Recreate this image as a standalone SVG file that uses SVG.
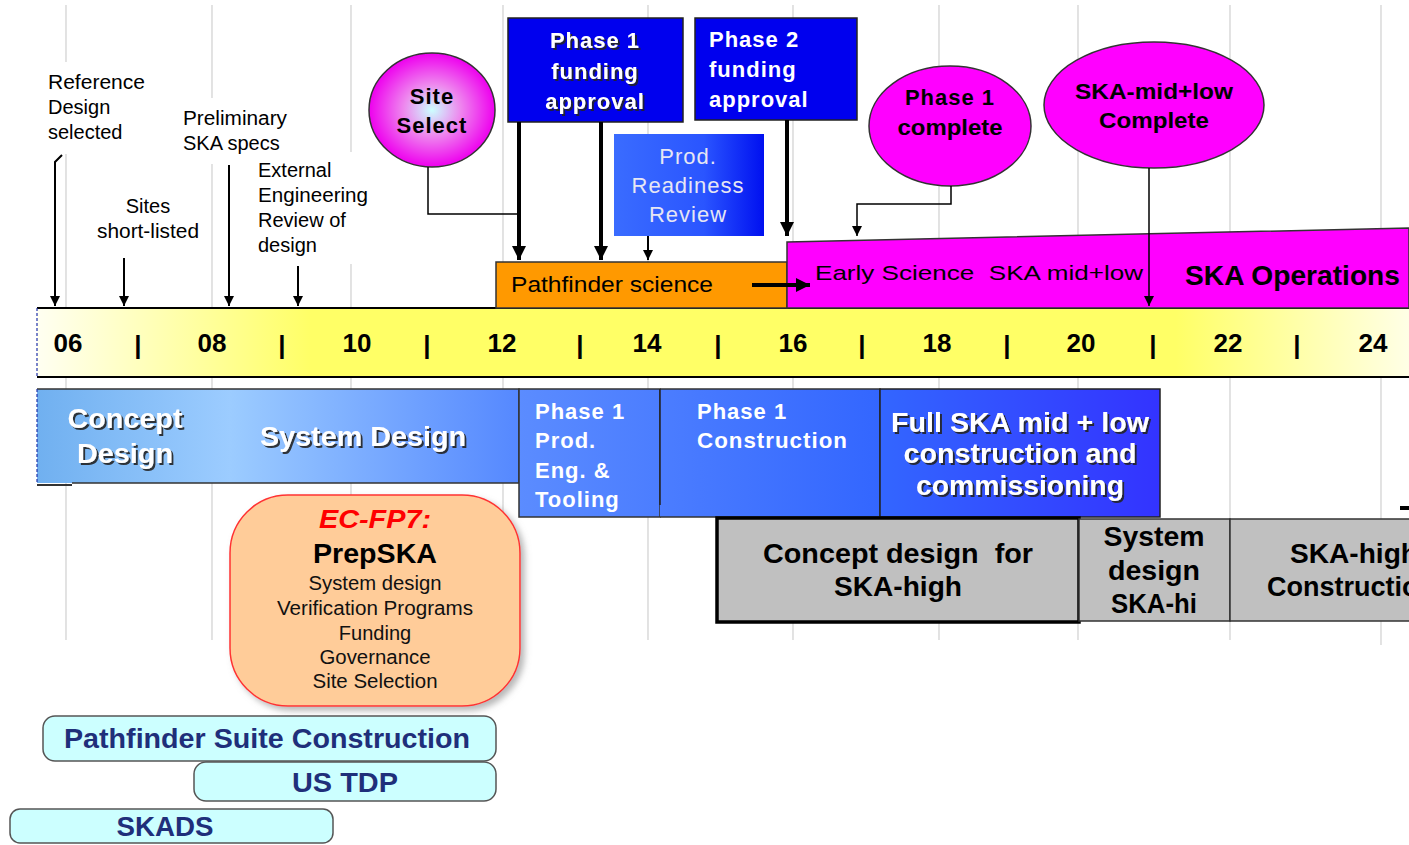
<svg xmlns="http://www.w3.org/2000/svg" width="1409" height="845" viewBox="0 0 1409 845">
<defs>
<style>
text{font-family:"Liberation Sans",Arial,sans-serif}
.lbl{font-size:20px;fill:#000}
.yr{font-size:26px;font-weight:bold;fill:#000}
.wb{font-weight:bold;fill:#fff}
.bk{font-weight:bold;fill:#000}
.grid{stroke:#d0d0d0;stroke-width:1.2}
.thin{stroke:#000;stroke-width:2;fill:none}
.thick{stroke:#000;stroke-width:4;fill:none}
.cyan{fill:#ccffff;stroke:#555;stroke-width:1.5}
.navy{font-weight:bold;fill:#1f2f7a}
</style>
<marker id="ah" markerUnits="userSpaceOnUse" markerWidth="12" markerHeight="12" refX="10" refY="5" orient="auto"><path d="M0,0 L10,5 L0,10 Z" fill="#000"/></marker>
<marker id="ahb" markerUnits="userSpaceOnUse" markerWidth="16" markerHeight="16" refX="14" refY="7" orient="auto"><path d="M0,0 L14,7 L0,14 Z" fill="#000"/></marker>
<linearGradient id="gy" gradientUnits="userSpaceOnUse" x1="37" y1="0" x2="1409" y2="0"><stop offset="0" stop-color="#fffff2"/><stop offset="0.2" stop-color="#ffff66"/><stop offset="0.83" stop-color="#ffff66"/><stop offset="1" stop-color="#ffffe6"/></linearGradient>
<linearGradient id="gc" gradientUnits="userSpaceOnUse" x1="37" y1="0" x2="519" y2="0"><stop offset="0" stop-color="#70b0f0"/><stop offset="0.4" stop-color="#9cccff"/><stop offset="1" stop-color="#5588ff"/></linearGradient>
<linearGradient id="gp" gradientUnits="userSpaceOnUse" x1="519" y1="0" x2="880" y2="0"><stop offset="0" stop-color="#5b8cff"/><stop offset="1" stop-color="#3366ff"/></linearGradient>
<linearGradient id="gf" gradientUnits="userSpaceOnUse" x1="880" y1="0" x2="1160" y2="0"><stop offset="0" stop-color="#3366ff"/><stop offset="1" stop-color="#3333ff"/></linearGradient>
<linearGradient id="gr" gradientUnits="userSpaceOnUse" x1="614" y1="0" x2="764" y2="0"><stop offset="0" stop-color="#3a6cff"/><stop offset="0.6" stop-color="#2a55ff"/><stop offset="1" stop-color="#0010f0"/></linearGradient>
<radialGradient id="gm" cx="0.5" cy="0.5" r="0.5"><stop offset="0" stop-color="#ccffff"/><stop offset="0.45" stop-color="#ee88ee"/><stop offset="1" stop-color="#ee00ee"/></radialGradient>
<filter id="sh" x="-10%" y="-10%" width="130%" height="140%"><feDropShadow dx="2" dy="2" stdDeviation="0.3" flood-color="#222" flood-opacity="0.9"/></filter>
<filter id="bs" x="-10%" y="-10%" width="130%" height="130%"><feDropShadow dx="4" dy="4" stdDeviation="3" flood-color="#888" flood-opacity="0.6"/></filter>
</defs>
<rect width="1409" height="845" fill="#fff"/>
<g id="gridlines">
<path class="grid" d="M66,5V640M212,5V640M351,5V640M503,5V640M648,5V640M793,5V640M939,5V640M1078,5V640M1230,5V640M1381,5V645"/>
</g>
<g id="timeline">
<rect x="37" y="308" width="1380" height="69" fill="url(#gy)"/>
<path d="M37,308H1409M37,377H1409" stroke="#000" stroke-width="2"/>
<path d="M37,308V377" stroke="#2233aa" stroke-width="1.2" stroke-dasharray="3,2"/>
<g class="yr">
<text x="68" y="352" text-anchor="middle">06</text>
<text x="138" y="354" text-anchor="middle">|</text>
<text x="212" y="352" text-anchor="middle">08</text>
<text x="282" y="354" text-anchor="middle">|</text>
<text x="357" y="352" text-anchor="middle">10</text>
<text x="427" y="354" text-anchor="middle">|</text>
<text x="502" y="352" text-anchor="middle">12</text>
<text x="580" y="354" text-anchor="middle">|</text>
<text x="647" y="352" text-anchor="middle">14</text>
<text x="718" y="354" text-anchor="middle">|</text>
<text x="793" y="352" text-anchor="middle">16</text>
<text x="862" y="354" text-anchor="middle">|</text>
<text x="937" y="352" text-anchor="middle">18</text>
<text x="1007" y="354" text-anchor="middle">|</text>
<text x="1081" y="352" text-anchor="middle">20</text>
<text x="1153" y="354" text-anchor="middle">|</text>
<text x="1228" y="352" text-anchor="middle">22</text>
<text x="1297" y="354" text-anchor="middle">|</text>
<text x="1373" y="352" text-anchor="middle">24</text>
</g>
</g>
<g id="ref-design">
<rect x="42" y="62" width="112" height="92" fill="#fff"/>
<text class="lbl" x="48" y="89" textLength="97" lengthAdjust="spacingAndGlyphs">Reference</text>
<text class="lbl" x="48" y="114">Design</text>
<text class="lbl" x="48" y="139">selected</text>
</g>
<g id="sites-shortlisted">
<text class="lbl" x="148" y="213" text-anchor="middle">Sites</text>
<text class="lbl" x="148" y="238" text-anchor="middle" textLength="102" lengthAdjust="spacingAndGlyphs">short-listed</text>
</g>
<g id="prelim-specs">
<rect x="178" y="98" width="114" height="66" fill="#fff"/>
<text class="lbl" x="183" y="125" textLength="104" lengthAdjust="spacingAndGlyphs">Preliminary</text>
<text class="lbl" x="183" y="150">SKA specs</text>
</g>
<g id="ext-review">
<rect x="252" y="152" width="122" height="112" fill="#fff"/>
<text class="lbl" x="258" y="177">External</text>
<text class="lbl" x="258" y="202" textLength="110" lengthAdjust="spacingAndGlyphs">Engineering</text>
<text class="lbl" x="258" y="227">Review of</text>
<text class="lbl" x="258" y="252">design</text>
</g>
<g id="site-select">
<ellipse cx="432" cy="110" rx="63" ry="57" fill="url(#gm)" stroke="#333" stroke-width="1.5"/>
<text class="bk" x="432" y="104" text-anchor="middle" font-size="22" letter-spacing="1">Site</text>
<text class="bk" x="432" y="133" text-anchor="middle" font-size="22" letter-spacing="1">Select</text>
</g>
<g id="phase1-funding">
<rect x="508" y="18" width="175" height="104" fill="#0000ee" stroke="#222" stroke-width="1.5"/>
<g class="wb" font-size="22" letter-spacing="1" filter="url(#sh)" text-anchor="middle">
<text x="595" y="48">Phase 1</text>
<text x="595" y="79">funding</text>
<text x="595" y="109">approval</text>
</g>
</g>
<g id="phase2-funding">
<rect x="695" y="18" width="162" height="102" fill="#0000ee" stroke="#222" stroke-width="1.5"/>
<g class="wb" font-size="22" letter-spacing="1">
<text x="709" y="47">Phase 2</text>
<text x="709" y="77">funding</text>
<text x="709" y="107">approval</text>
</g>
</g>
<g id="prod-readiness">
<rect x="614" y="134" width="150" height="102" fill="url(#gr)"/>
<g font-size="22" fill="#e6e6f4" text-anchor="middle" letter-spacing="1">
<text x="688" y="164">Prod.</text>
<text x="688" y="193">Readiness</text>
<text x="688" y="222">Review</text>
</g>
</g>
<g id="pathfinder-science">
<rect x="496" y="262" width="291" height="46" fill="#ff9900" stroke="#333" stroke-width="1.5"/>
<text x="511" y="292" font-size="22" fill="#000" textLength="202" lengthAdjust="spacingAndGlyphs">Pathfinder science</text>
</g>
<g id="ska-operations">
<path d="M787,242 L1409,228 L1409,308 L787,308 Z" fill="#ff00ff" stroke="#333" stroke-width="1.5"/>
<text x="815" y="280" font-size="21" fill="#000" textLength="328" lengthAdjust="spacingAndGlyphs">Early Science&#160; SKA mid+low</text>
<text class="bk" x="1185" y="285" font-size="27" textLength="215" lengthAdjust="spacingAndGlyphs">SKA Operations</text>
</g>
<g id="phase1-complete">
<ellipse cx="950" cy="126" rx="81" ry="60" fill="#ff00ff" stroke="#333" stroke-width="1.5"/>
<text class="bk" x="950" y="105" text-anchor="middle" font-size="22" letter-spacing="1">Phase 1</text>
<text class="bk" x="950" y="135" text-anchor="middle" font-size="22" textLength="105" lengthAdjust="spacingAndGlyphs">complete</text>
</g>
<g id="ska-complete">
<ellipse cx="1154" cy="105" rx="110" ry="63" fill="#ff00ff" stroke="#333" stroke-width="1.5"/>
<text class="bk" x="1154" y="99" text-anchor="middle" font-size="22" textLength="158" lengthAdjust="spacingAndGlyphs">SKA-mid+low</text>
<text class="bk" x="1154" y="128" text-anchor="middle" font-size="22" textLength="110" lengthAdjust="spacingAndGlyphs">Complete</text>
</g>
<g id="connectors">
<path class="thin" d="M62,155 L55,162 V306" marker-end="url(#ah)"/>
<path class="thin" d="M124,258 V306" marker-end="url(#ah)"/>
<path class="thin" d="M229,165 V306" marker-end="url(#ah)"/>
<path class="thin" d="M298,266 V306" marker-end="url(#ah)"/>
<path stroke="#000" stroke-width="1.5" fill="none" d="M428,167 V214 H519"/>
<path class="thick" d="M519,122 V260" marker-end="url(#ahb)"/>
<path class="thick" d="M601,122 V260" marker-end="url(#ahb)"/>
<path class="thick" d="M787,120 V236" marker-end="url(#ahb)"/>
<path class="thin" d="M648,236 V260" marker-end="url(#ah)"/>
<path class="thick" d="M752,285 H810" marker-end="url(#ahb)"/>
<path stroke="#000" stroke-width="1.5" fill="none" d="M951,186 V204 H857 V236" marker-end="url(#ah)"/>
<path stroke="#000" stroke-width="1.5" fill="none" d="M1149,168 V306" marker-end="url(#ah)"/>
</g>
<g id="concept-system-design">
<rect x="37" y="389" width="482" height="94" fill="url(#gc)"/>
<path d="M37,389H519V483H72" stroke="#333" stroke-width="1.5" fill="none"/>
<path d="M37,389V483" stroke="#2233aa" stroke-width="1.2" stroke-dasharray="3,2"/>
<path d="M37,485H72" stroke="#333" stroke-width="2"/>
<g class="wb" font-size="28" filter="url(#sh)" text-anchor="middle">
<text x="125" y="428" textLength="115" lengthAdjust="spacingAndGlyphs">Concept</text>
<text x="125" y="463" textLength="96" lengthAdjust="spacingAndGlyphs">Design</text>
<text x="363" y="446" textLength="206" lengthAdjust="spacingAndGlyphs">System Design</text>
</g>
</g>
<g id="phase1-prod-eng">
<rect x="519" y="389" width="141" height="128" fill="url(#gp)" stroke="#333" stroke-width="1.5"/>
<g class="wb" font-size="22" letter-spacing="1">
<text x="535" y="419">Phase 1</text>
<text x="535" y="448">Prod.</text>
<text x="535" y="478">Eng. &amp;</text>
<text x="535" y="507">Tooling</text>
</g>
</g>
<g id="phase1-construction">
<rect x="660" y="389" width="220" height="128" fill="url(#gp)"/>
<path d="M660,389H880V517H660" stroke="#333" stroke-width="1.5" fill="none"/>
<path d="M660,389V505" stroke="#222" stroke-width="1.5"/>
<g class="wb" font-size="22" letter-spacing="1">
<text x="697" y="419">Phase 1</text>
<text x="697" y="448" textLength="151" lengthAdjust="spacingAndGlyphs">Construction</text>
</g>
</g>
<g id="full-ska">
<rect x="880" y="389" width="280" height="128" fill="url(#gf)" stroke="#222" stroke-width="1.5"/>
<g class="wb" font-size="28" filter="url(#sh)" text-anchor="middle">
<text x="1020" y="432" textLength="258" lengthAdjust="spacingAndGlyphs">Full SKA mid + low</text>
<text x="1020" y="463" textLength="233" lengthAdjust="spacingAndGlyphs">construction and</text>
<text x="1020" y="495" textLength="208" lengthAdjust="spacingAndGlyphs">commissioning</text>
</g>
</g>
<g id="concept-ska-high">
<rect x="717" y="518" width="362" height="104" fill="#c0c0c0" stroke="#000" stroke-width="3.5"/>
<g class="bk" font-size="28" text-anchor="middle">
<text x="898" y="563" textLength="270" lengthAdjust="spacingAndGlyphs">Concept design&#160; for</text>
<text x="898" y="596" textLength="128" lengthAdjust="spacingAndGlyphs">SKA-high</text>
</g>
</g>
<g id="system-design-ska-hi">
<rect x="1079" y="519" width="151" height="102" fill="#c0c0c0" stroke="#333" stroke-width="1.5"/>
<g class="bk" font-size="27" text-anchor="middle">
<text x="1154" y="546" textLength="101" lengthAdjust="spacingAndGlyphs">System</text>
<text x="1154" y="580" textLength="92" lengthAdjust="spacingAndGlyphs">design</text>
<text x="1154" y="613" textLength="86" lengthAdjust="spacingAndGlyphs">SKA-hi</text>
</g>
</g>
<g id="ska-high-construction">
<rect x="1230" y="519" width="190" height="102" fill="#c0c0c0" stroke="#333" stroke-width="1.5"/>
<g class="bk" font-size="27">
<text x="1290" y="563" textLength="128" lengthAdjust="spacingAndGlyphs">SKA-high</text>
<text x="1267" y="596" textLength="168" lengthAdjust="spacingAndGlyphs">Construction</text>
</g>
<rect x="1400" y="506" width="9" height="4" fill="#000"/>
</g>
<g id="prepska">
<rect x="230" y="495" width="290" height="211" rx="58" ry="58" fill="#ffcc99" stroke="#ff3333" stroke-width="1.5" filter="url(#bs)"/>
<text x="375" y="528" text-anchor="middle" font-size="25" font-weight="bold" font-style="italic" fill="#ff0000" textLength="112" lengthAdjust="spacingAndGlyphs">EC-FP7:</text>
<text class="bk" x="375" y="563" text-anchor="middle" font-size="28" textLength="124" lengthAdjust="spacingAndGlyphs">PrepSKA</text>
<g font-size="20" fill="#111" text-anchor="middle">
<text x="375" y="590" textLength="133" lengthAdjust="spacingAndGlyphs">System design</text>
<text x="375" y="615" textLength="196" lengthAdjust="spacingAndGlyphs">Verification Programs</text>
<text x="375" y="640">Funding</text>
<text x="375" y="664" textLength="111" lengthAdjust="spacingAndGlyphs">Governance</text>
<text x="375" y="688" textLength="125" lengthAdjust="spacingAndGlyphs">Site Selection</text>
</g>
</g>
<g id="pathfinder-suite">
<rect class="cyan" x="43" y="716" width="453" height="45" rx="12"/>
<text class="navy" x="267" y="748" text-anchor="middle" font-size="28" textLength="406" lengthAdjust="spacingAndGlyphs">Pathfinder Suite Construction</text>
</g>
<g id="us-tdp">
<rect class="cyan" x="194" y="762" width="302" height="39" rx="12"/>
<text class="navy" x="345" y="792" text-anchor="middle" font-size="28" textLength="106" lengthAdjust="spacingAndGlyphs">US TDP</text>
</g>
<g id="skads">
<rect class="cyan" x="10" y="809" width="323" height="34" rx="10"/>
<text class="navy" x="165" y="836" text-anchor="middle" font-size="28" textLength="97" lengthAdjust="spacingAndGlyphs">SKADS</text>
</g>
</svg>
